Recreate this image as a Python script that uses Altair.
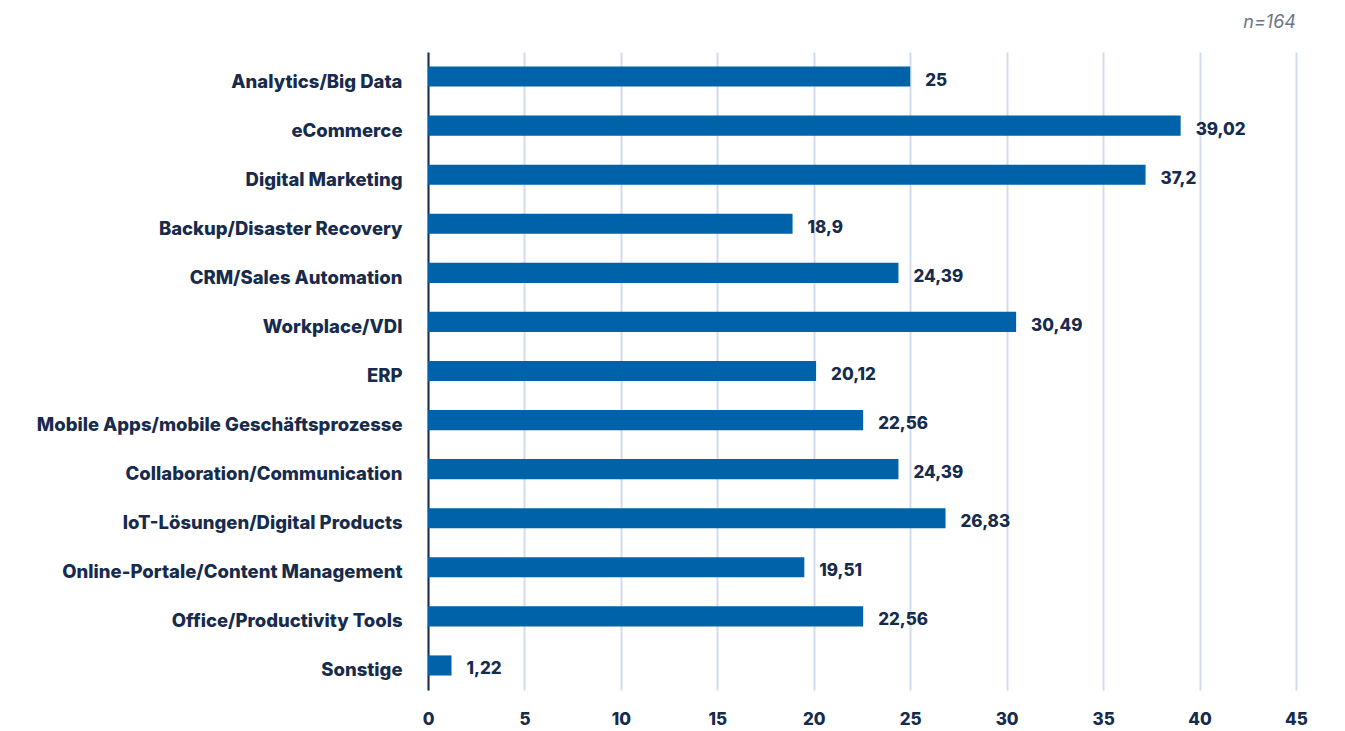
import altair as alt
import pandas as pd

categories = [
    "Analytics/Big Data", "eCommerce", "Digital Marketing", "Backup/Disaster Recovery",
    "CRM/Sales Automation", "Workplace/VDI", "ERP", "Mobile Apps/mobile Geschäftsprozesse",
    "Collaboration/Communication", "IoT-Lösungen/Digital Products",
    "Online-Portale/Content Management", "Office/Productivity Tools", "Sonstige",
]
values = [25, 39.02, 37.2, 18.9, 24.39, 30.49, 20.12, 22.56, 24.39, 26.83, 19.51, 22.56, 1.22]
value_labels = ["25", "39,02", "37,2", "18,9", "24,39", "30,49", "20,12", "22,56",
                "24,39", "26,83", "19,51", "22,56", "1,22"]
x_ticks = [0, 5, 10, 15, 20, 25, 30, 35, 40, 45]

df = pd.DataFrame({"cat": categories, "val": values, "lab": value_labels})

FONT = "Inter"
NAVY = "#172b4d"
BLUE = "#0062a8"

y_enc = alt.Y("cat:N", sort=categories, title=None,
              scale=alt.Scale(paddingInner=0.59, paddingOuter=0.295),
              axis=alt.Axis(labelFont=FONT, labelFontSize=18.5, labelFontWeight=800,
                            labelColor=NAVY, ticks=False, domain=True, domainColor=NAVY,
                            domainWidth=2, labelPadding=26, labelLimit=500, grid=False,
                            labelOffset=5))
x_enc = alt.X("val:Q", title=None,
              scale=alt.Scale(domain=[0, 45], nice=False),
              axis=alt.Axis(values=x_ticks, labelFont=FONT, labelFontSize=17,
                            labelFontWeight=800, labelColor=NAVY, ticks=False,
                            domain=False, grid=True, gridColor="#d3dbee", gridWidth=2,
                            labelPadding=21, labelFlush=False))

bars = alt.Chart(df).mark_bar(color=BLUE).encode(x=x_enc, y=y_enc)
text = alt.Chart(df).mark_text(align="left", dx=15, dy=4, font=FONT, fontSize=17,
                               fontWeight=800, color=NAVY).encode(
    x="val:Q", y=alt.Y("cat:N", sort=categories), text="lab:N")

chart = (bars + text).properties(
    width=868, height=638,
    autosize=alt.AutoSizeParams(type="none"),
    padding={"left": 420, "top": 44, "right": 40, "bottom": 40},
    title=alt.TitleParams("n=164", anchor="end", orient="top", frame="group", font=FONT,
                          fontSize=18, fontStyle="italic", fontWeight="normal",
                          color="#6b7585", offset=20),
).configure_view(stroke=None)

chart.save("out.html", embed_options={"renderer": "svg", "actions": False})
